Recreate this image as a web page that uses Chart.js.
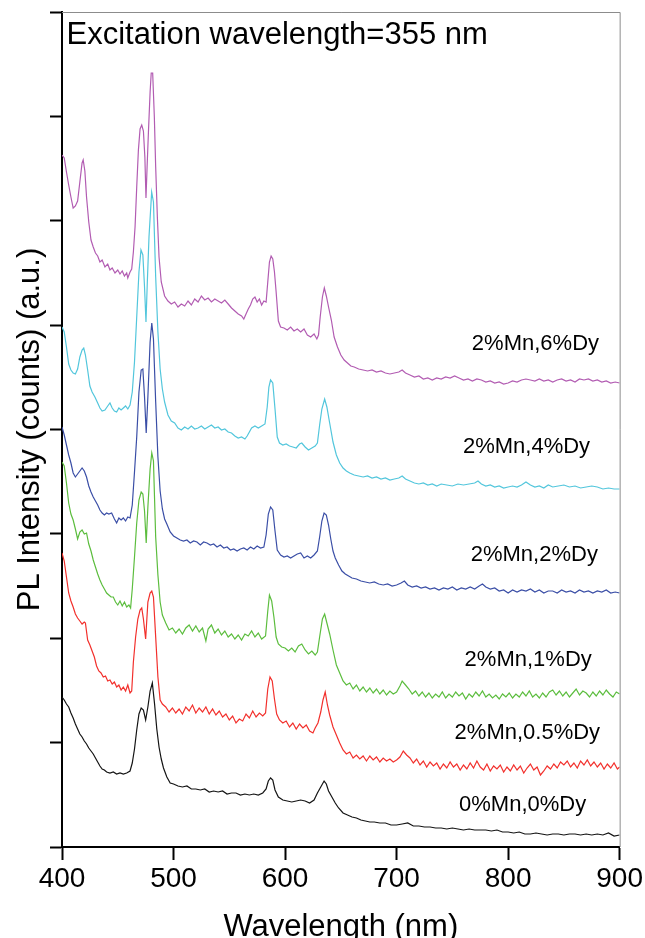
<!DOCTYPE html>
<html>
<head>
<meta charset="utf-8">
<script src="https://cdn.jsdelivr.net/npm/chart.js@4.4.1/dist/chart.umd.min.js"></script>
<style>
  html, body { margin: 0; padding: 0; background: #fff; }
  canvas { display: block; }
</style>
</head>
<body>
<canvas id="pl" width="645" height="938"></canvas>
<script>
// PL spectra, wavelength in nm, intensity in a.u. (curves are offset upward)
var wl0 = [400,402,404,406,408,410,412,414,416,418,420,422,424,426,428,430,432,434,436,438,440,443,446,449,452,455,458,461,463,465,467,469,471,473,475,477,479,481,483,485,487,489,491,494,497,500,504,508,512,516,520,524,528,532,536,540,544,548,552,556,560,564,568,572,576,580,583,585,587,589,591,594,598,602,606,610,614,618,622,626,629,632,635,637,639,642,645,648,652,656,660,664,668,672,676,680,685,690,695,700,705,710,715,720,725,730,735,740,745,750,755,760,765,770,775,780,785,790,795,800,805,810,815,820,825,830,835,840,845,850,855,860,865,870,875,880,885,890,895,900];
var int0 = [150,147,143,140,134,129,123,118,113,110,106,103,99,96,93,89,85,81,78,77,75,74,75,73,74,73,74,76,84,98,117,133,139,137,127,140,156,164,143,118,100,88,79,70,64,63,61,60,61,58,58,57,58,55,56,55,56,53,54,54,52,53,52,53,52,54,58,66,69,67,57,50,47,46,45,46,47,46,44,47,54,60,66,63,56,50,44,39,34,32,30,29,27,26,25,25,24,24,22,22,23,24,21,21,20,20,19,19,18,19,18,17,18,17,17,17,16,17,15,15,14,15,13,13,14,13,12,13,13,12,13,13,12,13,12,13,12,14,11,12];

var wl05 = [400,402,404,406,408,410,412,414,416,418,420,421,423,425,427,429,431,433,435,437,439,441,443,445,447,449,451,453,455,457,459,461,462.5,464,466,468,470,471.5,473,475,477,479,480.5,482,484,486,488,490,493,496,499,502,505,508,511,514,517,520,523,526,529,532,535,538,541,544,547,550,553,556,559,562,565,568,571,574,577,580,582.5,584.5,586.5,588.5,590.5,592.5,595,598,601,604,607,610,613,616,619,622,625,627,629.5,632,634,636,638,640,643,646,649,652,655,658,661,664,667,670,673,676,679,682,685,688,691,694,697,700,703,706,709,712,715,718,721,724,727,730,733,736,739,742,745,748,751,754,757,760,763,766,769,772,775,778,781,784,787,790,793,796,799,802,805,808,811,814,817,820,823,826,829,832,835,838,841,844,847,850,853,856,859,862,865,868,871,874,877,880,883,886,889,892,895,898,900];
var int05 = [294,286,270,254,246,240,233,229,226,223,225,224,207,202,196,190,181,176,174,170,171,166,167,163,165,160,162,157,160,156,162,154,156,185,210,228,237,239,228,208,245,254,256,250,210,170,147,143,140,135,139,134,138,133,140,136,142,134,139,135,140,133,138,132,136,130,133,127,131,124,128,126,133,129,136,130,134,131,134,158,170,166,148,133,127,124,126,120,124,118,123,119,122,116,114,119,124,135,147,155,142,132,120,112,104,97,93,95,89,92,88,91,86,91,87,90,85,89,86,88,85,87,90,96,92,89,84,88,82,86,80,85,81,84,78,83,79,85,80,83,77,82,78,84,79,86,80,77,83,76,81,78,82,75,80,76,82,77,81,74,79,83,77,80,72,76,81,78,83,79,85,82,86,80,84,79,86,82,87,81,85,80,84,78,83,79,84,78,80];

var wl1 = [400,402,404,406,408,410,412,414,416,418,420,422,424,426,428,430,432,434,436,438,440,442,444,446,448,450,452,454,456,458,460,461.5,463,465,467,469,471,472.5,474,475.5,477,479,480.5,482,484,486,488,490,493,496,499,502,505,508,511,514,517,520,523,526,529,531,534,537,540,543,546,549,552,555,558,561,564,567,570,573,576,579,582.5,584.5,586,588,590,592,594,597,600,603,606,609,612,615,618,621,624,627,629,631,633.5,635.5,637.5,640,643,646,649,652,655,658,661,664,667,670,673,676,679,682,685,688,691,694,697,700,703,705,708,711,714,717,720,723,726,729,732,735,738,741,744,747,750,753,756,759,762,765,768,771,774,777,780,783,786,789,792,795,798,801,804,807,810,813,816,819,822,825,828,831,834,837,840,843,846,849,852,855,858,861,864,867,870,873,876,879,882,885,888,891,894,897,900];
var int1 = [385,381,364,344,333,327,318,308,315,317,313,314,303,296,287,280,273,267,262,258,254,252,250,250,245,242,246,241,245,240,242,239,258,290,324,347,355,353,336,304,340,378,394,386,310,272,245,232,224,217,219,214,218,213,219,222,216,221,215,219,206,218,222,214,218,212,216,210,213,208,212,207,213,211,216,210,214,208,211,236,252,246,230,210,203,200,199,196,199,195,201,203,197,193,196,192,195,210,228,233,224,213,197,182,174,166,162,164,158,162,156,160,155,159,154,158,153,157,152,156,153,155,161,166,162,158,153,156,151,155,150,154,149,153,150,155,149,153,150,155,151,154,148,153,150,155,151,156,150,153,149,152,148,153,150,154,149,153,150,155,151,156,150,153,149,154,150,155,157,152,156,151,155,150,154,158,152,156,154,150,155,151,156,152,157,153,150,155,153];

var wl2 = [400,402,404,406,408,410,412,414,416,418,420,422,424,426,428,430,432,434,436,438,440,442,444.5,447,449,451,453,455,457,459,461,463,465,467,469,471,472.5,474,475.5,477,479,480.5,482,484,486,488,490,492,494,497,500,503,506,509,512,515,518,521,524,527,530,533,536,539,542,545,548,551,554,557,560,563,566,569,572,575,578,581,583,585,587,589,591,593,596,599,602,605,608,611,614,617,620,623,626,629,631,633,635,637,639,641,643,645,648,651,654,657,660,664,668,672,676,680,684,688,692,696,700,704,707,710,714,718,722,726,730,734,738,742,746,750,754,758,762,766,770,774,777,780,784,788,792,796,800,804,808,812,816,820,824,828,832,836,840,844,848,852,856,860,864,868,872,876,880,884,888,892,896,900];
var int2 = [420,412,402,392,384,374,370,373,376,379,376,370,361,355,350,346,342,337,334,332,334,333,334,328,324,329,327,329,326,330,329,342,375,410,455,477,478,450,414,450,505,524,508,445,390,356,338,328,323,315,311,309,307,306,307,304,306,305,302,305,304,302,303,300,302,299,300,297,298,296,298,299,297,300,298,301,299,300,312,333,340,337,316,297,292,290,291,289,291,293,294,289,291,289,292,296,310,326,334,332,322,308,296,289,282,276,273,271,269,268,266,265,264,265,263,262,263,261,262,264,266,262,260,261,259,260,258,259,257,259,258,260,257,259,258,260,258,261,263,260,258,259,256,257,254,257,255,257,256,258,255,257,254,256,256,254,257,255,256,254,257,255,256,254,256,255,257,254,255,254];

var wl4 = [400,402,404,406,408,410,412,414,416,418,419.5,421,423,425,427,429.5,432,434,436,438.5,441,443,445,447,449,451,453,455,457,459,461,463,465,467,469,470.8,472.5,474,475.3,476.5,478,480.4,482,484,486,488,490,492,495,498,501,504,507,510,513,516,519,522,525,528,531,534,537,540,543,546,549,552,555,558,561,564,566,568,570,573,576,579,582,584,585.5,587,589,591,593,595,598,601,604,607,610,613,615,618,621,624,627,629,631,633,635.5,637.5,640,643,646,649,652,655,658,662,666,670,674,678,682,686,690,694,698,702,705,708,712,716,720,724,728,732,736,740,745,750,755,760,765,770,773,776,780,784,788,792,796,800,804,808,812,816,820,824,828,832,836,840,845,850,855,860,865,870,875,880,885,890,895,900];
var int4 = [520,515,500,483,477,474,473,478,490,497,499,492,477,461,455,450,444,439,436,437,441,444,439,436,435,439,437,439,441,438,442,455,485,530,575,597,592,560,525,565,610,655,645,570,515,478,458,445,432,426,424,419,417,420,418,421,418,419,421,418,420,422,419,420,417,418,415,414,411,409,410,408,411,415,419,421,419,421,423,440,460,467,464,438,410,404,402,403,401,400,399,403,404,400,397,399,401,404,422,438,448,440,424,405,392,384,379,376,374,372,371,370,371,369,370,368,369,367,368,369,371,368,366,364,363,364,362,363,361,363,362,361,363,362,363,364,366,363,361,362,360,361,359,360,361,360,362,365,362,360,361,359,362,360,361,362,360,361,359,360,361,360,358,359,358,358];

var wl6 = [400,402,404,406,408,410,412,414,416,418,419,420.5,422,424,426,428,430,432,434,436,438.5,441,443,445,447.5,450,452,454,456,458,459,461,462.5,464,465.5,467,468.5,470,471.5,473,474.3,475.3,476.3,477.5,479,480,481.3,482.8,484,485.5,487,489,492,495,498,501,504,507,510,513,516,519,522,525,528,531,534,537,540,543,546,549,552,555,558,561,563,565,567,569,571,573,575,577,579,581,583,584.5,586,587.5,589,590.5,592,594,596,599,602,605,608,611,614,617,620,623,626,628.5,630,631.5,633.5,635.2,637,639,641.5,644,647,650,653,656,659,662,666,670,674,678,682,686,690,694,698,702,705,708,712,716,720,724,728,732,736,740,744,748,752,756,760,764,768,772,776,780,784,788,792,796,800,804,808,812,816,820,824,828,832,836,840,844,848,852,856,860,864,868,872,876,880,884,888,892,896,900];
var int6 = [692,689,675,662,650,639,641,646,665,684,687,676,650,625,607,600,594,591,585,587,580,583,577,579,574,577,573,576,571,574,569,575,578,595,620,660,697,718,722,716,690,649,680,715,755,774,774,730,680,630,590,565,551,546,543,545,540,543,541,546,542,548,545,551,547,549,545,548,546,544,547,543,539,536,533,531,528,533,538,542,548,550,545,548,542,546,545,565,585,591,588,575,555,526,520,519,517,520,516,518,515,518,512,510,513,508,512,530,550,559,551,540,527,510,500,492,487,484,481,480,478,477,476,477,475,476,474,473,474,475,477,474,472,470,471,468,469,467,469,468,470,469,471,469,467,468,466,468,467,465,466,464,465,463,464,466,465,467,468,467,466,468,466,467,465,467,468,466,467,465,468,467,468,466,467,465,466,464,465,464];

var seriesNames = ['0%Mn,0%Dy', '2%Mn,0.5%Dy', '2%Mn,1%Dy', '2%Mn,2%Dy', '2%Mn,4%Dy', '2%Mn,6%Dy'];
var seriesWl = [wl0, wl05, wl1, wl2, wl4, wl6];
var seriesInt = [int0, int05, int1, int2, int4, int6];
var seriesColors = ['#141414', '#f2302c', '#5cbd3e', '#3a4ea6', '#52c6dc', '#b25cb2'];
// where each sample label sits (nm, a.u.)
var labelNm = [756, 752, 761, 766.5, 759.5, 767.5];
var labelAu = [42, 114, 187, 292, 400, 503];

var xTicks = [400, 500, 600, 700, 800, 900];

var datasets = seriesNames.map(function (name, i) {
  return {
    label: name,
    data: seriesWl[i].map(function (w, j) { return { x: w, y: seriesInt[i][j] }; }),
    borderColor: seriesColors[i],
    borderWidth: 1.2,
    pointRadius: 0,
    tension: 0,
    fill: false
  };
});

var FONT = '"Liberation Sans", Arial, sans-serif';
Chart.defaults.font.family = FONT;
Chart.defaults.color = '#000';

var textPlugin = {
  id: 'plText',
  afterDatasetsDraw: function (chart) {
    var ctx = chart.ctx, a = chart.chartArea;
    var xs = chart.scales.x, ys = chart.scales.y;
    ctx.save();
    // thin frame on top and right
    ctx.strokeStyle = '#8c8c8c';
    ctx.lineWidth = 1;
    ctx.beginPath();
    ctx.moveTo(a.left, a.top + 0.5);
    ctx.lineTo(a.right + 0.5, a.top + 0.5);
    ctx.lineTo(a.right + 0.5, a.bottom);
    ctx.stroke();

    ctx.fillStyle = '#000';
    ctx.textAlign = 'left';
    ctx.textBaseline = 'alphabetic';
    ctx.font = '31px ' + FONT;
    ctx.fillText('Excitation wavelength=355 nm', a.left + 4.5, a.top + 32);

    ctx.font = '22px ' + FONT;
    ctx.textBaseline = 'middle';
    seriesNames.forEach(function (name, i) {
      ctx.fillText(name, xs.getPixelForValue(labelNm[i]), ys.getPixelForValue(labelAu[i]));
    });
    ctx.restore();
  }
};

new Chart(document.getElementById('pl'), {
  type: 'line',
  data: { datasets: datasets },
  plugins: [textPlugin],
  options: {
    responsive: false,
    animation: false,
    devicePixelRatio: 1,
    layout: { padding: { left: 0, top: 12, right: 25, bottom: 0 } },
    plugins: { legend: { display: false }, tooltip: { enabled: false } },
    scales: {
      x: {
        type: 'linear',
        min: 400,
        max: 900,
        afterFit: function (s) { s.height = 91; },
        afterBuildTicks: function (s) { s.ticks = xTicks.map(function (v) { return { value: v }; }); },
        ticks: { font: { size: 28 }, padding: 2, maxRotation: 0, autoSkip: false, color: '#000' },
        grid: { drawOnChartArea: false, tickLength: 13, tickWidth: 2, tickColor: '#000' },
        border: { display: true, color: '#000', width: 2 },
        title: { display: true, text: 'Wavelength (nm)', font: { size: 31, lineHeight: 0.65 }, color: '#000', padding: { top: 0, bottom: 0 } }
      },
      y: {
        type: 'linear',
        min: 0,
        max: 835,
        afterFit: function (s) { s.width = 62; },
        ticks: { stepSize: 104.375, display: false },
        grid: { drawOnChartArea: false, tickLength: 12, tickWidth: 2, tickColor: '#000' },
        border: { display: true, color: '#000', width: 2 },
        title: { display: true, text: 'PL Intensity (counts) (a.u.)', font: { size: 31 }, color: '#000', padding: { top: 11.5, bottom: 0 } }
      }
    }
  }
});
</script>
</body>
</html>
